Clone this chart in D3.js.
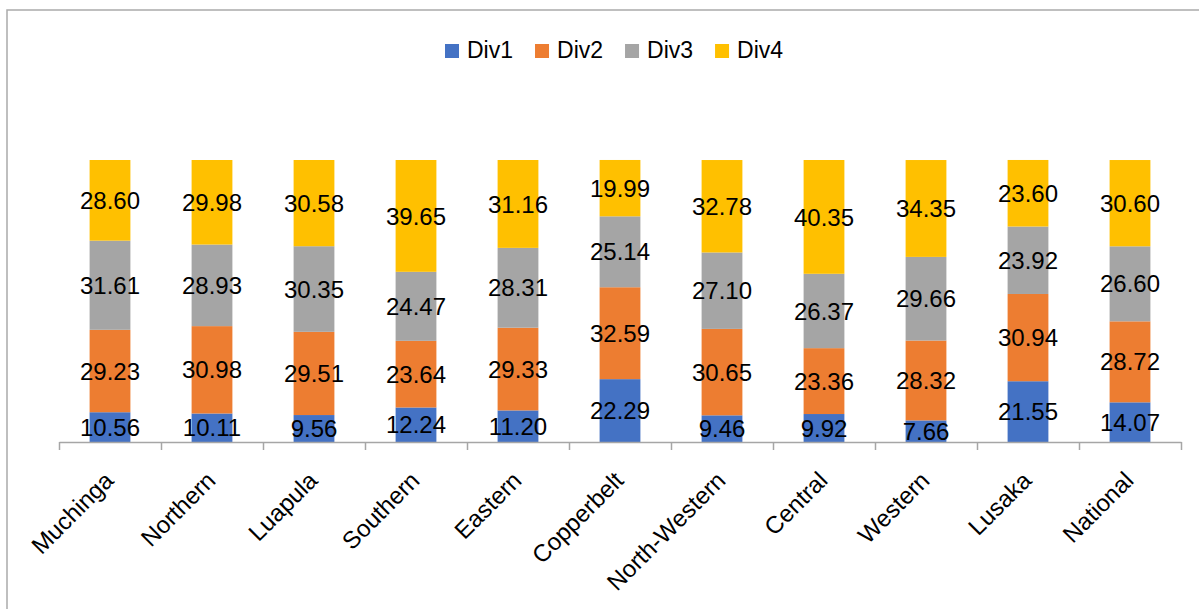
<!DOCTYPE html>
<html>
<head>
<meta charset="utf-8">
<script src="https://cdn.jsdelivr.net/npm/d3@7"></script>
<style>
  html, body { margin: 0; padding: 0; background: #fff; }
  svg { display: block; }
  text { font-family: "Liberation Sans", Arial, sans-serif; fill: #000; }
</style>
</head>
<body>
<svg id="chart" width="1199" height="609"></svg>
<script>
const categories = ["Muchinga", "Northern", "Luapula", "Southern", "Eastern", "Copperbelt",
                    "North-Western", "Central", "Western", "Lusaka", "National"];
const seriesNames = ["Div1", "Div2", "Div3", "Div4"];
const div1 = [10.56, 10.11, 9.56, 12.24, 11.20, 22.29, 9.46, 9.92, 7.66, 21.55, 14.07];
const div2 = [29.23, 30.98, 29.51, 23.64, 29.33, 32.59, 30.65, 23.36, 28.32, 30.94, 28.72];
const div3 = [31.61, 28.93, 30.35, 24.47, 28.31, 25.14, 27.10, 26.37, 29.66, 23.92, 26.60];
const div4 = [28.60, 29.98, 30.58, 39.65, 31.16, 19.99, 32.78, 40.35, 34.35, 23.60, 30.60];
const colors = ["#4472C4", "#ED7D31", "#A5A5A5", "#FFC000"];

const seriesValues = [div1, div2, div3, div4];
const table = categories.map((c, i) => {
  const row = { category: c };
  seriesNames.forEach((s, j) => row[s] = seriesValues[j][i]);
  return row;
});

const svg = d3.select("#chart");

// chart border
svg.append("rect")
  .attr("x", 7).attr("y", 10)
  .attr("width", 1300).attr("height", 700)
  .attr("fill", "#fff")
  .attr("stroke", "#ababab").attr("stroke-width", 1.5);

const plotLeft = 59, plotRight = 1181, plotTop = 160, plotBottom = 442;

const x = d3.scaleBand().domain(categories).range([plotLeft, plotRight])
  .paddingInner(0.6).paddingOuter(0.3);
const y = d3.scaleLinear().domain([0, 100]).range([plotBottom, plotTop]);

const stack = d3.stack().keys(seriesNames);
const stacked = stack(table);

const g = svg.append("g");
stacked.forEach((layer, j) => {
  g.append("g").attr("fill", colors[j])
    .selectAll("rect").data(layer).join("rect")
    .attr("x", d => x(d.data.category))
    .attr("width", x.bandwidth())
    .attr("y", d => y(d[1]))
    .attr("height", d => y(d[0]) - y(d[1]));
});

// data labels
const fsLabel = 24;
stacked.forEach((layer, j) => {
  g.append("g")
    .selectAll("text").data(layer).join("text")
    .attr("text-anchor", "middle")
    .attr("font-size", fsLabel)
    .attr("x", d => x(d.data.category) + x.bandwidth() / 2)
    .attr("y", d => (y(d[0]) + y(d[1])) / 2 + fsLabel * 0.36)
    .text(d => d3.format(".2f")(d.data[seriesNames[j]]));
});

// axis with ticks at category boundaries
const xIdx = d3.scaleLinear().domain([0, categories.length]).range([plotLeft, plotRight]);
const axis = svg.append("g")
  .attr("transform", `translate(0,${plotBottom})`)
  .call(d3.axisBottom(xIdx).tickValues(d3.range(categories.length + 1))
    .tickFormat("").tickSizeInner(8).tickSizeOuter(0));
axis.select(".domain").attr("stroke", "#a6a6a6").attr("stroke-width", 1.5);
axis.selectAll(".tick line").attr("stroke", "#a6a6a6").attr("stroke-width", 1.5);

// category labels
svg.append("g").selectAll("text").data(categories).join("text")
  .attr("text-anchor", "end")
  .attr("font-size", 24)
  .attr("transform", d => `translate(${x(d) + x.bandwidth() / 2 + 5},${plotBottom + 40}) rotate(-45)`)
  .text(d => d);

// legend
const legend = svg.append("g");
const legendFs = 23;
let lx = 445;
seriesNames.forEach((s, j) => {
  const item = legend.append("g");
  item.append("rect").attr("x", lx).attr("y", 44).attr("width", 14).attr("height", 14)
    .attr("fill", colors[j]);
  const t = item.append("text").attr("x", lx + 22).attr("y", 58)
    .attr("font-size", legendFs).text(s);
  const w = t.node().getComputedTextLength();
  lx += 22 + w + 22;
});
</script>
</body>
</html>
